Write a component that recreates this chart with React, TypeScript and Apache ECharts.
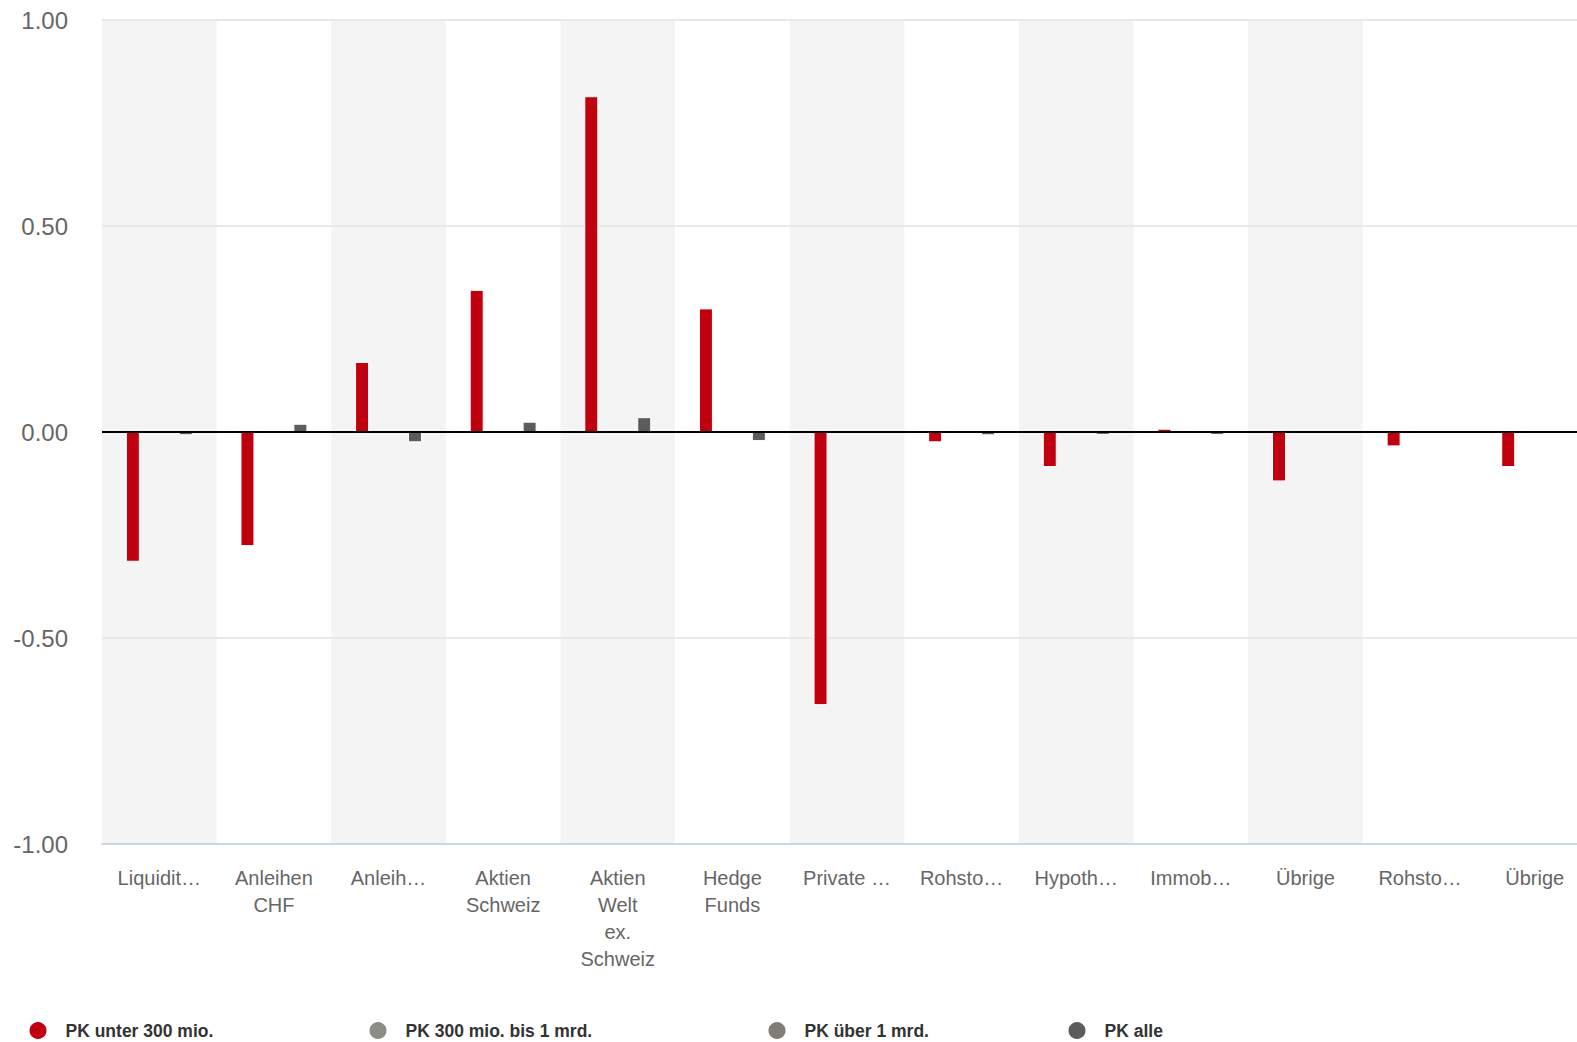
import React, { useEffect, useRef } from "react";
import * as echarts from "echarts";

const categories = [
  "Liquidit…",
  "Anleihen\nCHF",
  "Anleih…",
  "Aktien\nSchweiz",
  "Aktien\nWelt\nex.\nSchweiz",
  "Hedge\nFunds",
  "Private …",
  "Rohsto…",
  "Hypoth…",
  "Immob…",
  "Übrige",
  "Rohsto…",
  "Übrige",
];

const seriesNames = ["PK unter 300 mio.", "PK 300 mio. bis 1 mrd.", "PK über 1 mrd.", "PK alle"];
const seriesColors = ["#c1000f", "#8d8d85", "#807c76", "#5b5c5c"];

const pkUnter300 = [-0.315, -0.277, 0.17, 0.345, 0.815, 0.3, -0.663, -0.025, -0.085, 0.008, -0.12, -0.035, -0.085];
const pk300bis1mrd: (number | null)[] = [null, null, null, null, null, null, null, null, null, null, null, null, null];
const pkUeber1mrd: (number | null)[] = [null, null, null, null, null, null, null, null, null, null, null, null, null];
const pkAlle: (number | null)[] = [-0.008, 0.02, -0.025, 0.025, 0.036, -0.022, null, -0.008, -0.007, -0.007, null, null, null];

const bandTop: (number | null)[] = categories.map((_, i) => (i % 2 === 0 && i <= 10 ? 1 : null));
const bandBottom: (number | null)[] = categories.map((_, i) => (i % 2 === 0 && i <= 10 ? -1 : null));

const legendCenters = [37, 377, 776, 1076];

export default function App() {
  const ref = useRef<HTMLDivElement>(null);
  useEffect(() => {
    if (!ref.current) return;
    const chart = echarts.init(ref.current, undefined, { renderer: "svg" });
    const values = [pkUnter300, pk300bis1mrd, pkUeber1mrd, pkAlle];
    const barSeries: any[] = values.map((d, i) => ({
      name: seriesNames[i],
      type: "bar",
      xAxisIndex: 0,
      yAxisIndex: 0,
      data: d,
      barWidth: 14,
      barGap: "26%",
      itemStyle: { color: seriesColors[i], borderColor: "#ffffff", borderWidth: 1 },
      z: 3,
      ...(i === 0
        ? {
            markLine: {
              silent: true,
              symbol: ["none", "none"],
              label: { show: false },
              lineStyle: { color: "#000000", width: 2, type: "solid" },
              data: [{ yAxis: 0 }],
            },
          }
        : {}),
    }));
    const option: any = {
      animation: false,
      backgroundColor: "#ffffff",
      textStyle: { fontFamily: "Liberation Sans, Arial, sans-serif" },
      grid: { left: 102, right: 18, top: 20, bottom: 198, containLabel: false },
      legend: seriesNames.map((n, i) => ({
        data: [n],
        left: legendCenters[i] - 9.5,
        top: 1020,
        padding: 0,
        icon: "circle",
        itemWidth: 19,
        itemHeight: 19,
        selectedMode: false,
        textStyle: {
          fontSize: 17.5,
          fontWeight: "bold",
          color: "#333333",
          padding: [0, 0, 0, 13],
          fontFamily: "Liberation Sans, Arial, sans-serif",
        },
      })),
      xAxis: [
        {
          type: "category",
          data: categories,
          axisLine: { show: true, onZero: false, lineStyle: { color: "#ccd6eb", width: 2 } },
          axisTick: { show: false },
          axisLabel: {
            interval: 0,
            color: "#666666",
            fontSize: 20,
            lineHeight: 27,
            margin: 20,
            fontFamily: "Liberation Sans, Arial, sans-serif",
          },
          splitLine: { show: false },
        },
        {
          type: "category",
          data: categories,
          show: false,
        },
      ],
      yAxis: {
        type: "value",
        min: -1,
        max: 1,
        interval: 0.5,
        axisLine: { show: false },
        axisTick: { show: false },
        axisLabel: {
          color: "#666666",
          fontSize: 24,
          margin: 34,
          formatter: (v: number) => v.toFixed(2),
          fontFamily: "Liberation Sans, Arial, sans-serif",
        },
        splitLine: { lineStyle: { color: "#e9e9e9", width: 2 } },
      },
      series: [
        {
          name: "bandTop",
          type: "bar",
          xAxisIndex: 1,
          stack: "band",
          data: bandTop,
          barWidth: "100%",
          silent: true,
          itemStyle: { color: "#f4f4f4" },
          z: -1,
        },
        {
          name: "bandBottom",
          type: "bar",
          xAxisIndex: 1,
          stack: "band",
          data: bandBottom,
          barWidth: "100%",
          silent: true,
          itemStyle: { color: "#f4f4f4" },
          z: -1,
        },
        ...barSeries,
      ],
    };
    chart.setOption(option);
    return () => chart.dispose();
  }, []);
  return (
    <div
      style={{
        position: "fixed",
        left: 0,
        top: 0,
        width: 1577,
        height: 1042,
        overflow: "hidden",
        background: "#ffffff",
      }}
    >
      <div ref={ref} style={{ width: 1610, height: 1042 }} />
    </div>
  );
}
